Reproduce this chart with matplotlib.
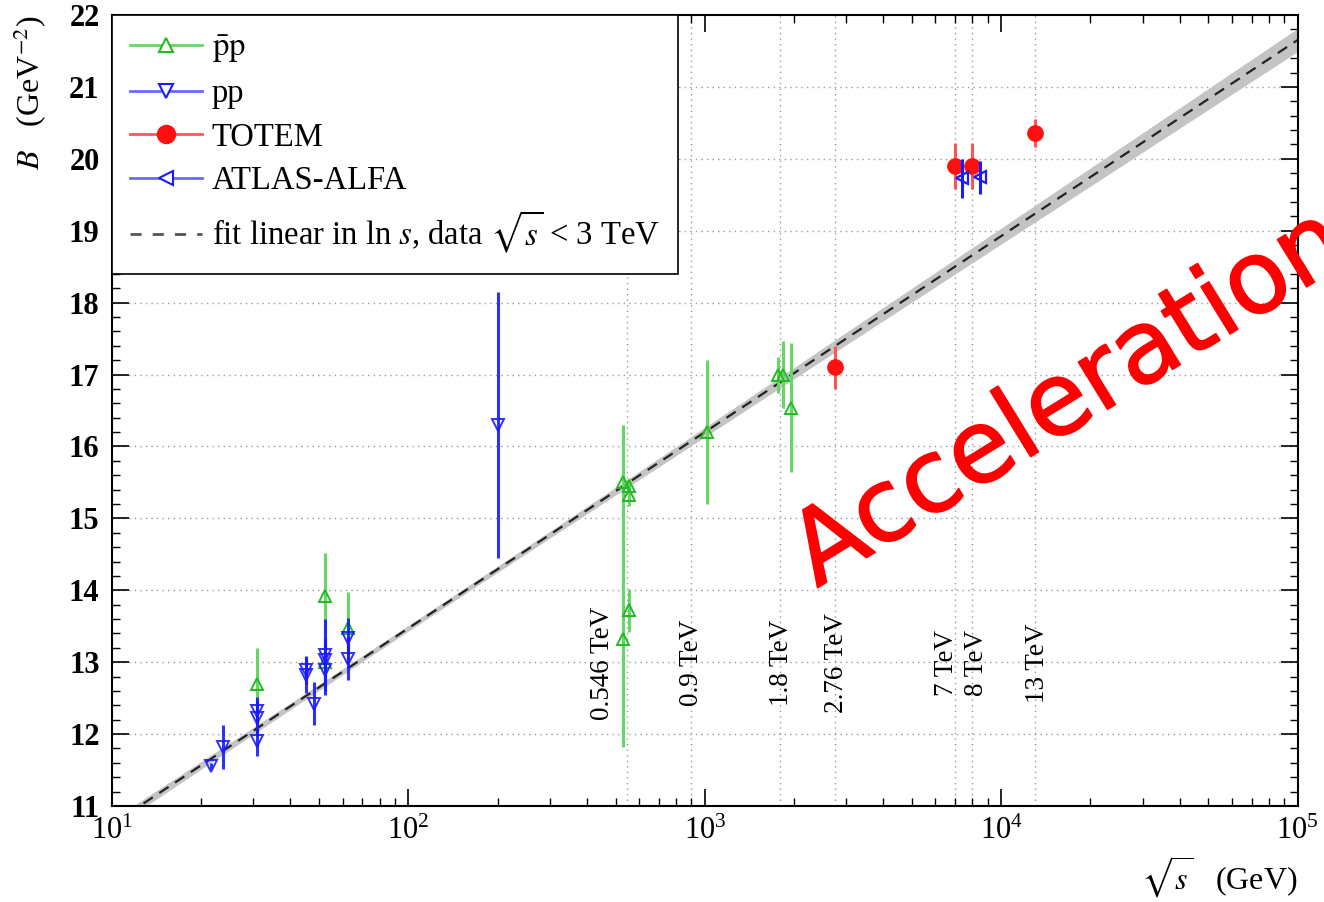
import numpy as np
import matplotlib
matplotlib.use("Agg")
import matplotlib.pyplot as plt
import matplotlib.patheffects as pe
from matplotlib.lines import Line2D
from matplotlib.ticker import MultipleLocator

plt.rcParams['font.family'] = ['Liberation Serif', 'DejaVu Serif']
plt.rcParams['mathtext.fontset'] = 'stix'

# p-bar p data (sqrt(s) in GeV, slope B in GeV^-2)
pbarp_x = [30.8, 52.5, 52.5, 62.7, 530, 530, 556, 556, 556, 1020, 1770, 1830, 1960]
pbarp_y = [12.70, 13.92, 13.00, 13.47, 15.50, 13.32, 15.45, 15.32, 13.72, 16.20, 17.00, 17.00, 16.54]
pbarp_err = [0.50, 0.60, 0.30, 0.50, 0.80, 1.50, 0.10, 0.15, 0.30, 1.00, 0.25, 0.47, 0.90]

# pp data
pp_x = [21.5, 23.6, 30.8, 30.8, 30.8, 45.1, 45.1, 48.1, 52.5, 52.5, 52.5, 62.7, 62.7, 200]
pp_y = [11.56, 11.82, 11.90, 12.22, 12.32, 12.89, 12.82, 12.42, 13.10, 13.03, 12.89, 13.33, 13.05, 16.30]
pp_err = [0.04, 0.30, 0.20, 0.25, 0.20, 0.20, 0.25, 0.30, 0.50, 0.30, 0.35, 0.28, 0.30, 1.85]

# TOTEM
totem_x = [2760, 7000, 8000, 13000]
totem_y = [17.10, 19.90, 19.90, 20.36]
totem_err = [0.30, 0.32, 0.32, 0.19]

# ATLAS-ALFA
alfa_x = [7350, 8500]
alfa_y = [19.73, 19.74]
alfa_err = [0.27, 0.23]

# fit B = B0 + b ln s, with band half-width
fit_B0 = 8.02
fit_b = 0.592
band_min = 0.04
band_slope = 0.052
band_center = 2.0  # log10(sqrt s) of narrowest point

# energy markers
energy_lines = [546, 900, 1800, 2760, 7000, 8000, 13000]
energy_labels = ['0.546 TeV', '0.9 TeV', '1.8 TeV', '2.76 TeV', '7 TeV', '8 TeV', '13 TeV']
energy_label_x = [453, 904, 1820, 2786, 6550, 8260, 13280]

green = '#22bb22'
green_bar = '#66d666'
blue = '#1a1aff'
red = '#ff1010'
red_bar = '#ff5555'

fig = plt.figure(figsize=(13.24, 9.02), dpi=100)
ax = fig.add_axes([0.0846, 0.1064, 0.8954, 0.877])

# fit line and band
xs = np.logspace(1, 5, 400)
lns = 2 * np.log(xs)
fit = fit_B0 + fit_b * lns
half = np.sqrt(band_min**2 + (band_slope * (np.log10(xs) - band_center))**2)
ax.fill_between(xs, fit - half, fit + half, color='#c4c4c4', lw=0, zorder=2)
ax.plot(xs, fit, color='#222222', ls=(0, (5, 3.5)), lw=1.6, zorder=3)

# grid
for yv in range(12, 22):
    ax.axhline(yv, color='#999999', ls=(0, (1, 3)), lw=1.0, zorder=1)
for xv in energy_lines:
    ax.axvline(xv, color='#999999', ls=(0, (1, 3)), lw=1.0, zorder=1)

ax.errorbar(pbarp_x, pbarp_y, yerr=pbarp_err, fmt='^', ms=8, mfc='none', mec=green,
            mew=1.4, ecolor=green_bar, elinewidth=2.2, capsize=0, zorder=4)
ax.errorbar(pp_x, pp_y, yerr=pp_err, fmt='v', ms=8, mfc='none', mec=blue,
            mew=1.4, ecolor=blue, elinewidth=2.2, capsize=0, alpha=0.9, zorder=5)
ax.errorbar(totem_x, totem_y, yerr=totem_err, fmt='o', ms=11, color=red,
            ecolor=red_bar, elinewidth=2.2, capsize=0, zorder=6)
ax.errorbar(alfa_x, alfa_y, yerr=alfa_err, fmt='<', ms=8, mfc='none', mec=blue,
            mew=1.6, ecolor=blue, elinewidth=2.2, capsize=0, zorder=7)

for xv, lab in zip(energy_label_x, energy_labels):
    ax.text(xv, 12.99, lab, rotation=90, ha='center', va='center', fontsize=19.5)

ax.set_xscale('log')
ax.set_xlim(10, 1e5)
ax.set_ylim(11, 22)
ax.yaxis.set_major_locator(MultipleLocator(1))
ax.yaxis.set_minor_locator(MultipleLocator(0.2))
ax.tick_params(which='both', direction='in', top=True, right=True)
ax.tick_params(which='major', length=12, width=1.2)
ax.tick_params(which='minor', length=6, width=1.0)
ax.tick_params(axis='y', labelsize=22, pad=9)
ax.tick_params(axis='x', labelsize=22, pad=8)
for lab in ax.get_yticklabels():
    lab.set_fontweight('bold')
for sp in ax.spines.values():
    sp.set_linewidth(1.5)

ax.set_xlabel(r'$\sqrt{s}$   (GeV)', loc='right', fontsize=23, labelpad=6)
ax.set_ylabel(r'$B$   (GeV$^{-2}$)', loc='top', fontsize=23, labelpad=14)

handles = [
    Line2D([], [], color=green_bar, lw=2, marker='^', ms=10, mfc='white', mec=green, mew=1.5),
    Line2D([], [], color='#6a6aff', lw=2, marker='v', ms=10, mfc='white', mec=blue, mew=1.5),
    Line2D([], [], color=red_bar, lw=2, marker='o', ms=13, mfc=red, mec=red),
    Line2D([], [], color='#6a6aff', lw=2, marker='<', ms=10, mfc='white', mec=blue, mew=1.5),
    Line2D([], [], color='#555555', lw=2, ls=(0, (4, 4))),
]
labels = [r'$\bar{\rm p}{\rm p}$', 'pp', 'TOTEM', 'ATLAS-ALFA',
          r'fit linear in ln $s$, data $\sqrt{s}$ < 3 TeV']
leg = ax.legend(handles, labels, loc='upper left', fontsize=23.5, frameon=True,
                fancybox=False, edgecolor='black', framealpha=1, borderaxespad=0,
                handlelength=2.2, labelspacing=0.4, handletextpad=0.3, borderpad=0.55)
leg.get_frame().set_linewidth(1.2)
leg.set_zorder(10)

fig.text(0.617, 0.348, 'Acceleration', color='red', fontsize=73, rotation=31.6,
         rotation_mode='anchor', ha='left', va='baseline', family='DejaVu Sans',
         zorder=20, path_effects=[pe.withStroke(linewidth=1.2, foreground='red')])

fig.savefig('out.png', dpi=100)
